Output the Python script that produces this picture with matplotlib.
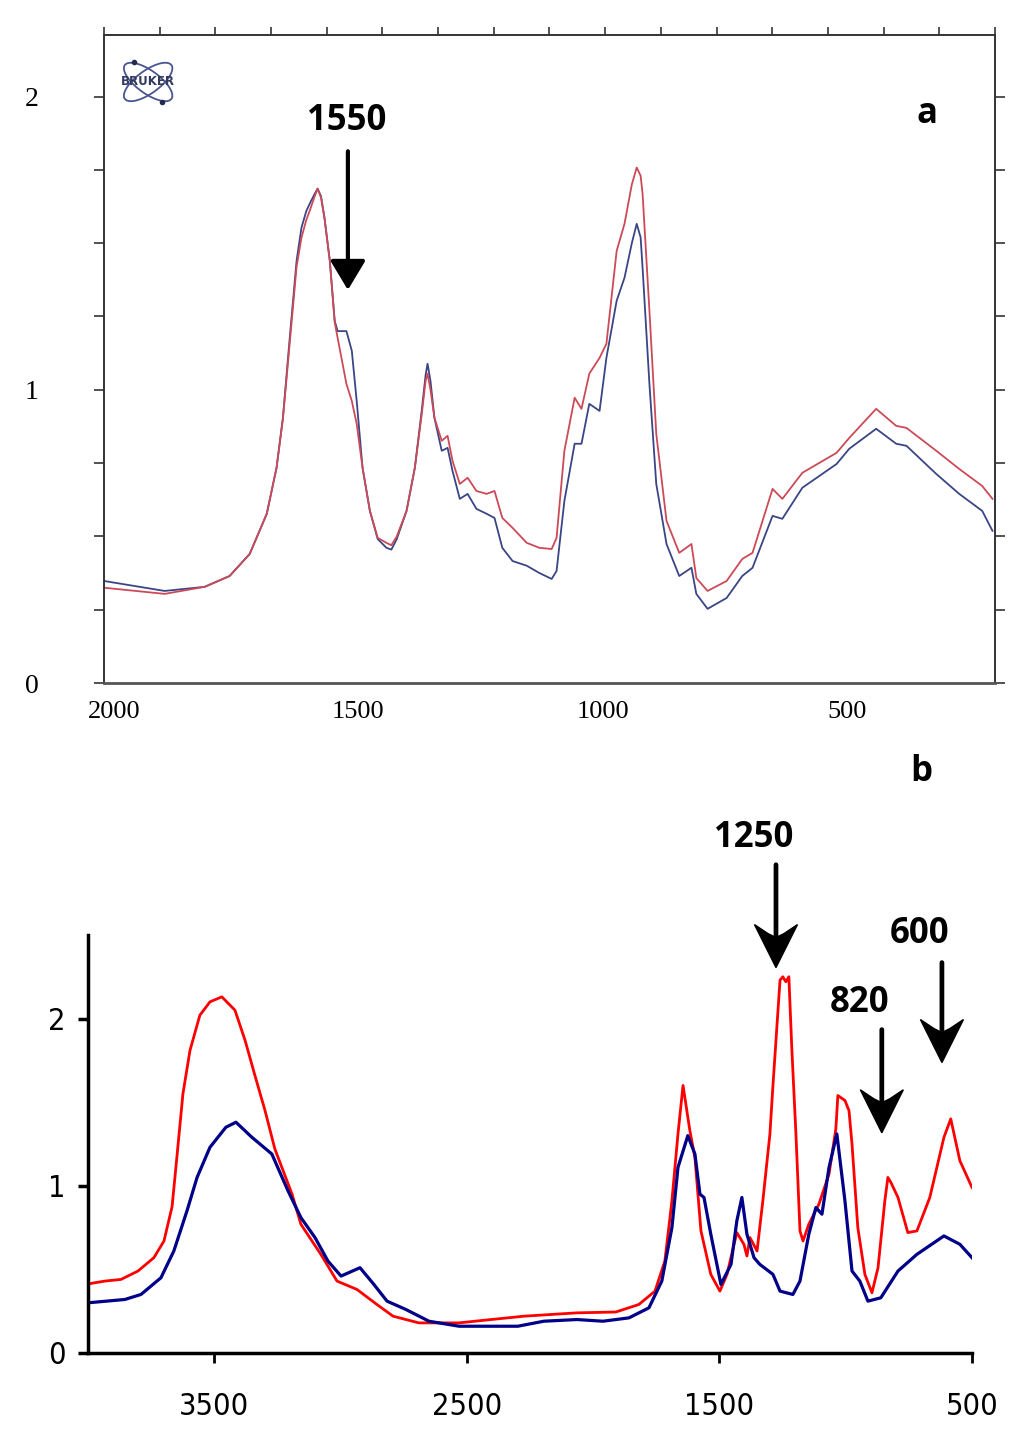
import numpy as np
import matplotlib
matplotlib.use("Agg")
import matplotlib.pyplot as plt
import matplotlib.transforms as mtransforms
from matplotlib.patches import Ellipse, Polygon

# ---- panel a: Bruker spectrum, 2020-197 cm-1 ----
wn_a = [2020, 1896, 1814, 1763, 1722, 1687, 1667, 1654, 1640, 1626, 1616, 1606,
        1599, 1590, 1583, 1576, 1569, 1558, 1548, 1542, 1524, 1513, 1503, 1491,
        1476, 1460, 1442, 1432, 1421, 1401, 1384, 1370, 1362, 1358, 1352, 1344,
        1329, 1317, 1307, 1292, 1276, 1258, 1237, 1221, 1205, 1184, 1155, 1129,
        1104, 1094, 1078, 1057, 1043, 1027, 1006, 992, 971, 955, 940, 930, 922,
        918, 904, 890, 869, 843, 818, 808, 785, 746, 714, 693, 652, 632, 591,
        521, 495, 440, 399, 378, 317, 270, 223, 202]
blue_a = [0.348, 0.314, 0.328, 0.365, 0.44, 0.577, 0.734, 0.905, 1.177, 1.44,
          1.553, 1.61, 1.635, 1.665, 1.686, 1.66, 1.587, 1.44, 1.235, 1.20,
          1.20, 1.133, 0.962, 0.734, 0.587, 0.491, 0.461, 0.455, 0.491, 0.587,
          0.734, 0.928, 1.05, 1.089, 1.03, 0.905, 0.792, 0.802, 0.724, 0.628,
          0.645, 0.594, 0.577, 0.563, 0.461, 0.416, 0.40, 0.375, 0.355, 0.382,
          0.621, 0.816, 0.816, 0.952, 0.928, 1.109, 1.304, 1.382, 1.50, 1.566,
          1.52, 1.416, 1.02, 0.679, 0.474, 0.365, 0.393, 0.304, 0.253, 0.29,
          0.365, 0.393, 0.57, 0.56, 0.666, 0.747, 0.799, 0.867, 0.816, 0.809,
          0.713, 0.645, 0.587, 0.519]
red_a = [0.325, 0.304, 0.328, 0.365, 0.44, 0.577, 0.734, 0.90, 1.16, 1.42,
         1.519, 1.58, 1.611, 1.655, 1.686, 1.655, 1.587, 1.44, 1.23, 1.177,
         1.02, 0.962, 0.884, 0.734, 0.587, 0.495, 0.478, 0.47, 0.50, 0.587,
         0.734, 0.915, 1.03, 1.055, 1.00, 0.905, 0.826, 0.843, 0.758, 0.679,
         0.70, 0.655, 0.645, 0.655, 0.563, 0.529, 0.478, 0.461, 0.457, 0.495,
         0.792, 0.973, 0.935, 1.055, 1.109, 1.157, 1.474, 1.566, 1.70, 1.758,
         1.73, 1.669, 1.27, 0.85, 0.553, 0.444, 0.474, 0.358, 0.314, 0.348,
         0.423, 0.444, 0.662, 0.628, 0.717, 0.785, 0.836, 0.935, 0.877, 0.87,
         0.792, 0.73, 0.672, 0.628]

# ---- panel b: 4000-500 cm-1 ----
wn_red_b = [4000, 3933, 3869, 3802, 3739, 3699, 3667, 3648, 3624, 3596, 3557,
            3517, 3470, 3418, 3378, 3339, 3299, 3260, 3192, 3157, 3078, 3014,
            2935, 2856, 2792, 2690, 2531, 2404, 2274, 2064, 1910, 1819, 1755,
            1716, 1688, 1664, 1644, 1617, 1597, 1573, 1534, 1498, 1470, 1431,
            1403, 1391, 1379, 1351, 1328, 1300, 1288, 1260, 1249, 1237, 1225,
            1213, 1197, 1181, 1169, 1146, 1106, 1066, 1039, 1031, 1003, 987,
            975, 952, 924, 896, 872, 845, 833, 821, 793, 754, 718, 667, 611,
            584, 548, 500]
red_b = [0.413, 0.43, 0.44, 0.49, 0.57, 0.67, 0.875, 1.17, 1.55, 1.81, 2.02,
         2.10, 2.13, 2.05, 1.87, 1.66, 1.45, 1.22, 0.95, 0.77, 0.59, 0.43,
         0.38, 0.29, 0.22, 0.18, 0.18, 0.20, 0.22, 0.24, 0.245, 0.29, 0.37,
         0.55, 0.91, 1.31, 1.60, 1.33, 1.17, 0.73, 0.47, 0.37, 0.47, 0.72,
         0.65, 0.58, 0.69, 0.61, 0.91, 1.31, 1.60, 2.23, 2.25, 2.22, 2.25,
         1.81, 1.31, 0.73, 0.67, 0.77, 0.89, 1.07, 1.34, 1.54, 1.51, 1.45,
         1.25, 0.75, 0.47, 0.36, 0.51, 0.91, 1.05, 1.02, 0.93, 0.72, 0.73,
         0.93, 1.29, 1.40, 1.15, 0.99]
wn_blue_b = [4000, 3854, 3790, 3711, 3660, 3608, 3568, 3517, 3454, 3414, 3351,
             3272, 3208, 3157, 3101, 3050, 2998, 2923, 2868, 2816, 2741, 2650,
             2531, 2298, 2195, 2064, 1961, 1858, 1779, 1728, 1688, 1664, 1625,
             1597, 1577, 1561, 1534, 1494, 1454, 1431, 1411, 1391, 1363, 1340,
             1288, 1260, 1209, 1181, 1146, 1118, 1094, 1066, 1035, 1003, 975,
             944, 912, 861, 793, 718, 611, 548, 500]
blue_b = [0.30, 0.32, 0.35, 0.45, 0.61, 0.85, 1.05, 1.23, 1.35, 1.38, 1.29,
          1.19, 0.97, 0.81, 0.69, 0.55, 0.46, 0.51, 0.41, 0.31, 0.26, 0.19,
          0.16, 0.16, 0.19, 0.20, 0.19, 0.21, 0.27, 0.43, 0.75, 1.11, 1.30,
          1.19, 0.95, 0.93, 0.71, 0.41, 0.53, 0.79, 0.93, 0.71, 0.57, 0.53,
          0.47, 0.37, 0.35, 0.43, 0.71, 0.87, 0.83, 1.11, 1.31, 0.91, 0.49,
          0.43, 0.31, 0.33, 0.49, 0.59, 0.70, 0.65, 0.57]

fig = plt.figure(figsize=(10.24, 14.34), dpi=100)
serif = ['Liberation Serif', 'DejaVu Serif']
bold = dict(fontsize=25, fontweight='bold', ha='center', va='center',
            family=['Open Sans', 'DejaVu Sans'])

# ---------------- panel a ----------------
ax1 = fig.add_axes([0.1016, 0.5237, 0.870, 0.4519])
ax1.plot(wn_a, blue_a, color='#3a4585', lw=1.3)
ax1.plot(wn_a, red_a, color='#cc4a58', lw=1.3)
ax1.set_xlim(2020, 197)
ax1.set_ylim(0, 2.21)
for s in ax1.spines.values():
    s.set_color('#333333')
    s.set_linewidth(1.4)
ax1.spines['bottom'].set_linewidth(2)
ax1.spines['bottom'].set_color('#555555')
ax1.set_xticks([2000, 1500, 1000, 500])
ax1.set_xticks(np.linspace(2020, 197, 17), minor=True)
ax1.tick_params(axis='x', which='major', length=0, pad=13, labelsize=19)
ax1.tick_params(axis='x', which='minor', bottom=False, top=True,
                direction='out', length=6, width=1.2, color='#333333')
ax1.set_yticks([0, 1, 2])
ax1.set_yticks(np.arange(0, 2.01, 0.25), minor=True)
ax1.tick_params(axis='y', which='both', left=True, right=True,
                direction='out', length=7, width=1.2, color='#333333')
ax1.tick_params(axis='y', which='major', pad=40, labelsize=20)
for lab in ax1.get_xticklabels() + ax1.get_yticklabels():
    lab.set_family(serif)
    lab.set_stretch('condensed')

ax1.text(1524, 1.918, '1550', **bold)
ax1.annotate('', xy=(1521, 1.331), xytext=(1521, 1.823),
             arrowprops=dict(arrowstyle='-|>,head_length=1.0,head_width=0.6',
                             mutation_scale=18, lw=3, color='black'))
ax1.text(337, 1.942, 'a', **bold)

# small Bruker logo
logo = ax1.inset_axes([0.012, 0.89, 0.075, 0.075])
logo.set_xlim(-1.3, 1.3)
logo.set_ylim(-0.75, 0.75)
logo.axis('off')
for ang in (28, -28):
    logo.add_patch(Ellipse((0, 0), 2.1, 0.75, angle=ang, fill=False,
                           color='#4a5590', lw=1.3))
logo.plot([-0.55, 0.55], [0.62, -0.62], 'o', color='#222a50', ms=3)
logo.text(0, 0, 'BRUKER', ha='center', va='center', fontsize=8.5,
          color='#333a60', fontweight='bold')

fig.text(0.900, 0.4616, 'b', **bold)

# ---------------- panel b ----------------
ax2 = fig.add_axes([0.0859, 0.0565, 0.8633, 0.2915])
ax2.plot(wn_red_b, red_b, color='#ff0000', lw=2)
ax2.plot(wn_blue_b, blue_b, color='#000088', lw=2.3)
ax2.set_xlim(4000, 500)
ax2.set_ylim(0, 2.5)
ax2.spines['top'].set_visible(False)
ax2.spines['right'].set_visible(False)
ax2.spines['left'].set_linewidth(2.5)
ax2.spines['bottom'].set_linewidth(2.5)
ax2.set_xticks([3500, 2500, 1500, 500])
ax2.set_yticks([0, 1, 2])
ax2.tick_params(axis='x', direction='out', length=7, width=2, pad=21,
                labelsize=22)
ax2.tick_params(axis='y', direction='out', length=7, width=2.5, pad=9,
                labelsize=22)
for lab in ax2.get_xticklabels() + ax2.get_yticklabels():
    lab.set_family(['DejaVu Sans'])
    lab.set_stretch('condensed')


def barbed_arrow(ax, x, y_tip, y_tail):
    # shaft stops inside the head
    ax.annotate('', xy=(x, y_tip), xytext=(x, y_tail), annotation_clip=False,
                arrowprops=dict(arrowstyle='-', lw=3.4, color='black',
                                shrinkA=0, shrinkB=12))
    trans = fig.dpi_scale_trans + mtransforms.ScaledTranslation(
        x, y_tip, ax.transData)
    head = Polygon([(0, 0), (-0.215, 0.43), (-0.08, 0.34), (0, 0.30),
                    (0.08, 0.34), (0.215, 0.43)],
                   closed=True, transform=trans, color='black', clip_on=False)
    ax.add_patch(head)


ax2.text(1363, 3.08, '1250', clip_on=False, **bold)
barbed_arrow(ax2, 1276, 2.305, 2.92)
ax2.text(944, 2.096, '820', clip_on=False, **bold)
barbed_arrow(ax2, 857, 1.317, 1.934)
ax2.text(706, 2.503, '600', clip_on=False, **bold)
barbed_arrow(ax2, 619, 1.737, 2.335)

fig.savefig('out.png', dpi=100)
